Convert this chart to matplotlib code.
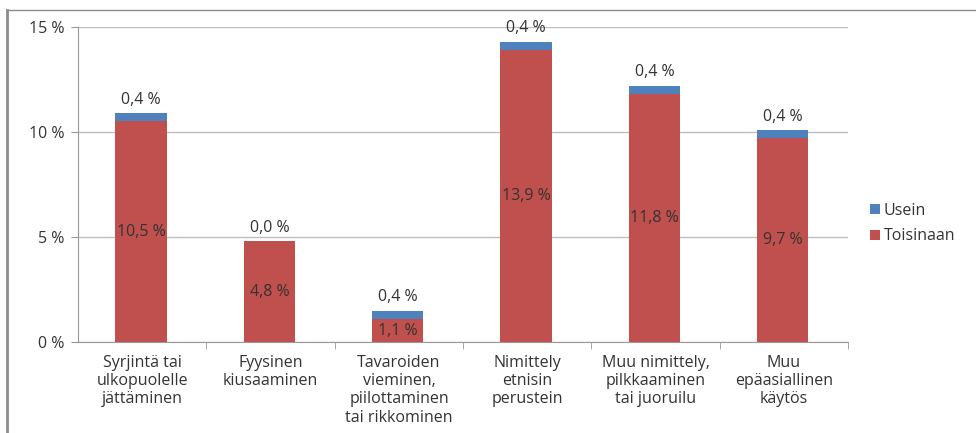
import numpy as np
import matplotlib.pyplot as plt
from matplotlib.lines import Line2D

plt.rcParams['font.family'] = ['Open Sans', 'DejaVu Sans']

# Data
categories = ['Syrjintä tai\nulkopuolelle\njättäminen', 'Fyysinen\nkiusaaminen',
              'Tavaroiden\nvieminen,\npiilottaminen\ntai rikkominen',
              'Nimittely\netnisin\nperustein', 'Muu nimittely,\npilkkaaminen\ntai juoruilu',
              'Muu\nepäasiallinen\nkäytös']
toisinaan = [10.5, 4.8, 1.1, 13.9, 11.8, 9.7]
usein = [0.4, 0.0, 0.4, 0.4, 0.4, 0.4]
yticks = [0, 5, 10, 15]

red = '#C0504D'
blue = '#4F81BD'
txt = '#333333'
fs = 11.5

fig = plt.figure(figsize=(9.76, 4.33), dpi=100)
ax = fig.add_axes([0.080, 0.210, 0.789, 0.728])

x = np.arange(len(categories))
w = 0.40
ax.bar(x - 0.01, toisinaan, w, color=red, label='Toisinaan', zorder=3)
ax.bar(x - 0.01, usein, w, bottom=toisinaan, color=blue, label='Usein', zorder=3)

def fmt(v):
    return f'{v:.1f}'.replace('.', ',') + ' %'

for i in range(len(x)):
    ax.text(x[i] - 0.01, toisinaan[i] / 2, fmt(toisinaan[i]), ha='center', va='center',
            fontsize=fs, color=txt, zorder=4)
    ax.text(x[i] - 0.01, toisinaan[i] + usein[i] + 0.25, fmt(usein[i]), ha='center',
            va='bottom', fontsize=fs, color=txt, zorder=4)

ax.set_xlim(-0.5, len(x) - 0.5)
ax.set_ylim(0, 15)
ax.set_yticks(yticks)
ax.set_yticklabels([f'{t} %' for t in yticks], fontsize=fs, color=txt)
ax.yaxis.grid(True, color='#BFBFBF', linewidth=1, zorder=0)

ax.set_xticks(x)
ax.set_xticklabels(categories, fontsize=fs, color=txt, linespacing=1.2)
ax.tick_params(axis='x', length=0, pad=9)
ax.set_xticks(np.arange(len(x)) + 0.5, minor=True)
ax.tick_params(axis='x', which='minor', length=5, color='#999999', direction='out')
ax.tick_params(axis='y', length=5, color='#999999', direction='out', pad=5)

for s in ['top', 'right']:
    ax.spines[s].set_visible(False)
for s in ['left', 'bottom']:
    ax.spines[s].set_color('#999999')

h, l = ax.get_legend_handles_labels()
ax.legend(h[::-1], l[::-1], loc='center left', bbox_to_anchor=(1.01, 0.376),
          frameon=False, fontsize=fs, handlelength=0.6, handleheight=0.6,
          handletextpad=0.25, labelspacing=0.6, labelcolor=txt)

# outer frame (left and top)
fig.add_artist(Line2D([0.007, 0.007], [0, 0.977], transform=fig.transFigure,
                      color='#8C8C8C', linewidth=2))
fig.add_artist(Line2D([0.007, 1.0], [0.977, 0.977], transform=fig.transFigure,
                      color='#8C8C8C', linewidth=1))

fig.savefig('out.png', dpi=100)
